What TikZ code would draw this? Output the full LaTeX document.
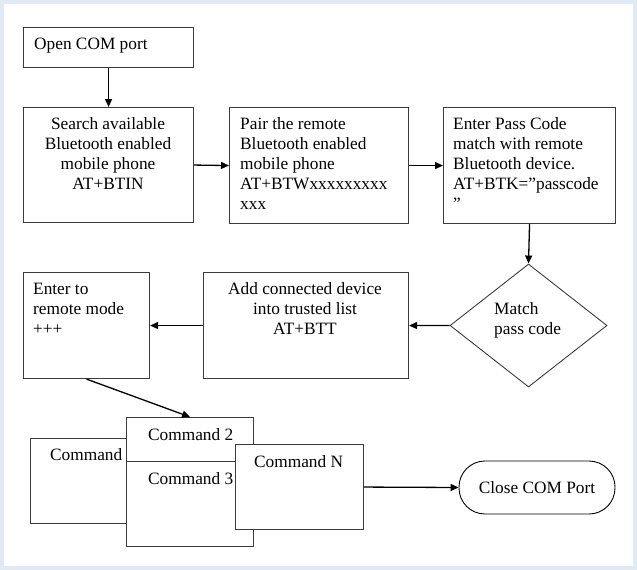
\documentclass[tikz,border=0pt]{standalone}
\usepackage{fontspec}
\setmainfont{Liberation Serif}
\usetikzlibrary{arrows.meta,shapes.geometric,calc}
\definecolor{boxgray}{RGB}{60,60,60}
\definecolor{framec}{RGB}{225,234,244}
\begin{document}
\begin{tikzpicture}[x=1pt,y=-1pt,
  box/.style={draw=boxgray,line width=1.1pt,fill=white,inner sep=0pt,anchor=north west},
  txt/.style={inner sep=0pt,font=\fontsize{17.3}{20}\selectfont},
  arr/.style={draw=black,line width=1.3pt,-{Triangle[length=8pt,width=7pt]}}]
\useasboundingbox (0,0) rectangle (637,570);
\fill[white] (0,0) rectangle (637,570);
\draw[framec,line width=4pt] (2,2) rectangle (635,568);

% top row
\node[box,minimum width=170pt,minimum height=40pt] (open) at (23,27) {};
\node[txt,anchor=north west] (topen) at (34,37.5) {Open COM port};

\node[box,minimum width=170pt,minimum height=115pt] (search) at (23,107) {};
\node[txt,anchor=north,align=center] (tsearch) at (108,117) {Search available\\Bluetooth enabled\\mobile phone\\AT+BTIN};

\node[box,minimum width=179pt,minimum height=116pt] (pair) at (229,107) {};
\node[txt,anchor=north west,align=left] (tpair) at (240,117) {Pair the remote\\Bluetooth enabled\\mobile phone\\AT+BTWxxxxxxxxx\\xxx};

\node[box,minimum width=172pt,minimum height=116pt] (pass) at (443,107) {};
\node[txt,anchor=north west,align=left] (tpass) at (453,117) {Enter Pass Code\\match with remote\\Bluetooth device.\\AT+BTK=”passcode\\”};

% middle row
\node[draw=boxgray,line width=0.9pt,diamond,fill=white,inner sep=0pt,minimum width=157pt,minimum height=123pt] (match) at (528.5,325.5) {};
\node[txt,anchor=north west,align=left] (tmatch) at (494,302) {Match\\pass code};

\node[box,minimum width=205pt,minimum height=106pt] (add) at (203,272) {};
\node[txt,anchor=north,align=center] (tadd) at (305,282) {Add connected device\\into trusted list\\AT+BTT};

\node[box,minimum width=126pt,minimum height=106pt] (remote) at (23,272) {};
\node[txt,anchor=north west,align=left] (tremote) at (33,283) {Enter to\\remote mode\\+++};

% command boxes
\node[box,minimum width=150pt,minimum height=85pt] (cmd1) at (30,438) {};
\node[txt,anchor=north west] (tcmd1) at (50,448) {Command};
\node[box,minimum width=127pt,minimum height=90pt] (cmd2) at (126,417) {};
\node[txt,anchor=north west] (tcmd2) at (148,428) {Command 2};
\node[box,minimum width=127pt,minimum height=85pt] (cmd3) at (126,461) {};
\node[txt,anchor=north west] (tcmd3) at (148,472) {Command 3};
\node[box,minimum width=128pt,minimum height=85pt] (cmdN) at (235,444) {};
\node[txt,anchor=north west] (tcmdN) at (254,455) {Command N};

\node[draw=black,line width=0.9pt,rounded corners=26pt,minimum width=156pt,minimum height=53pt,inner sep=0pt,font=\fontsize{17.3}{20}\selectfont] (close) at (537,487.5) {Close COM Port};

% connectors
\draw[arr] (open.south) -- (search.north);
\draw[arr] (search.east) -- (pair.west);
\draw[arr] (pair.east) -- (pass.west);
\draw[arr] (pass.south) -- (match.north);
\draw[arr] (match.west) -- (add.east);
\draw[arr] (add.west) -- (remote.east);
\draw[arr] (remote.south) -- (cmd2.north);
\draw[arr] (cmdN.east) -- (close.west);
\end{tikzpicture}
\end{document}
